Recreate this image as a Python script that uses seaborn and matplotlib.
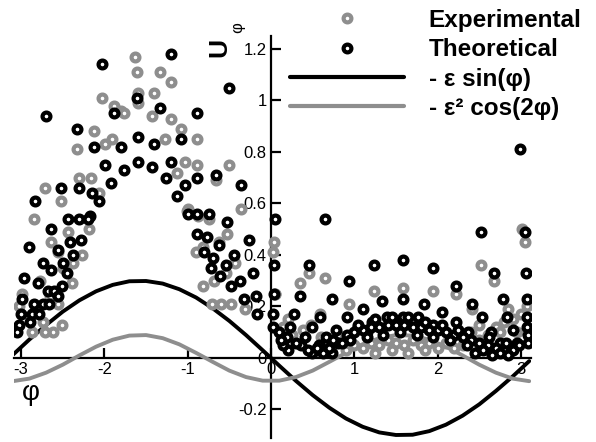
import matplotlib
matplotlib.use("Agg")
import matplotlib.pyplot as plt
import seaborn as sns
import pandas as pd
from matplotlib.lines import Line2D

sns.set_style("white")
plt.rcParams['font.family'] = ['Liberation Sans', 'DejaVu Sans']
plt.rcParams['text.color'] = 'black'

# ---------------- data ----------------
theo_x = [-1.20, -2.03, -1.61, -1.33, -1.88, -0.89, -2.70, -0.50,
          -2.33, -2.12, -1.80, -1.60, -1.40, -1.08,
          -1.99, -1.76, -1.60, -1.43, -1.20, -1.26, -0.89, -1.92, -1.03, -1.13, -2.15, -2.06, -1.00, -0.89, -2.17,
          -2.52, -2.30, -2.83, -2.44, -2.30, -2.20, -2.64, -2.28, -2.41, -2.91, -2.56, -2.50, -2.38, -2.74, -2.64,
          -2.45, -2.51, -2.97, -2.80, -2.68, -2.61, -2.56, -2.99, -2.85, -2.74, -2.67, -3.00, -2.87, -2.79, -2.89,
          -3.03, -3.05,
          -0.66, -0.36, -0.74, -0.53, -0.26, -0.89, -0.77, -0.62, -0.80, -0.70, -0.44, -0.54, -0.72, -0.61, -0.22,
          -0.37, -0.48, -0.32, -0.18, -0.17,
          0.05, 0.04, 0.04, 0.02, 0.02,
          0.65, 0.46, 1.24, 1.58, 0.94, 0.35, 0.73, 1.33, 1.58, 1.10, 0.28, 0.59, 0.91, 0.23, 0.49, 0.78, 1.21,
          1.39, 1.58, 0.19, 0.41, 0.66, 0.91, 1.04, 1.15, 0.36, 0.58, 0.80, 0.49, 0.62, 0.73,
          2.52, 3.05, 1.94, 2.68, 3.06, 2.22, 1.84, 2.41, 2.79, 3.07, 2.05, 2.53, 2.83, 3.07, 1.76, 1.94, 2.22,
          3.07, 2.36, 2.64, 2.91, 3.09, 3.09, 2.95, 2.75, 2.99,
          1.00, 1.10, 1.20, 1.30, 1.40, 1.50, 1.60, 1.70, 1.80, 1.90, 2.00, 2.10, 2.20, 2.30, 2.40, 2.50, 2.60,
          2.70, 2.80, 2.90, 0.85, 0.95, 1.15, 1.35, 1.55, 1.75, 1.95, 2.15, 2.35, 2.55, 2.75, 2.45, 2.65, 2.85,
          0.45, 0.55, 0.70, 0.75, 0.30, 0.20, 0.15, 0.10, 0.12,
          1.05, 1.25, 1.45, 1.65, 1.85, 2.05, 2.25, 2.62, 2.82, 2.98]
theo_y = [1.18, 1.14, 1.01, 0.97, 0.95, 0.95, 0.94, 1.05,
          0.89, 0.82, 0.82, 0.86, 0.83, 0.85,
          0.75, 0.73, 0.76, 0.74, 0.76, 0.70, 0.70, 0.68, 0.67, 0.63, 0.64, 0.61, 0.56, 0.56, 0.55,
          0.66, 0.66, 0.61, 0.54, 0.54, 0.54, 0.50, 0.46, 0.45, 0.43, 0.42, 0.37, 0.40, 0.37, 0.34,
          0.33, 0.28, 0.31, 0.29, 0.26, 0.26, 0.24, 0.23, 0.21, 0.21, 0.21, 0.17, 0.17, 0.17, 0.14,
          0.13, 0.10,
          0.71, 0.67, 0.56, 0.53, 0.46, 0.48, 0.47, 0.44, 0.41, 0.39, 0.40, 0.36, 0.35, 0.32, 0.33,
          0.30, 0.28, 0.23, 0.24, 0.17,
          0.54, 0.36, 0.25, 0.17, 0.12,
          0.54, 0.36, 0.36, 0.38, 0.30, 0.24, 0.23, 0.22, 0.23, 0.19, 0.17, 0.16, 0.16, 0.12, 0.12, 0.11, 0.14,
          0.16, 0.16, 0.08, 0.08, 0.08, 0.09, 0.12, 0.10, 0.05, 0.05, 0.06, 0.02, 0.02, 0.02,
          0.49, 0.49, 0.35, 0.33, 0.33, 0.28, 0.21, 0.21, 0.23, 0.23, 0.18, 0.16, 0.16, 0.16, 0.16, 0.13, 0.14,
          0.12, 0.10, 0.10, 0.11, 0.09, 0.06, 0.06, 0.06, 0.81,
          0.10, 0.11, 0.12, 0.12, 0.13, 0.13, 0.13, 0.12, 0.12, 0.11, 0.11, 0.10, 0.09, 0.08, 0.07, 0.06, 0.05,
          0.04, 0.03, 0.03, 0.06, 0.07, 0.08, 0.09, 0.10, 0.09, 0.08, 0.07, 0.05, 0.03, 0.02, 0.02, 0.01, 0.01,
          0.03, 0.04, 0.04, 0.07, 0.06, 0.03, 0.05, 0.10, 0.07,
          0.13, 0.15, 0.16, 0.16, 0.14, 0.13, 0.11, 0.08, 0.06, 0.05]

exp_x = [-1.63, -1.61, -1.33, -1.20, -2.03, -1.88, -1.80, -1.76, -1.60, -1.60, -1.40, -1.43, -1.20, -1.08,
         -2.12, -2.33, -1.99, -1.91, -1.27, -0.89, -1.03, -0.89, -1.13, -2.30, -2.16, -2.06, -1.00,
         -2.71, -2.52, -2.85, -2.44, -2.18, -2.64, -2.27, -2.50, -2.38, -2.56, -2.39, -2.77, -2.99, -2.56,
         -3.03, -2.65, -2.51, -2.62, -2.74, -2.87, -2.71,
         -0.50, -0.66, -0.36, -1.01, -0.88, -0.74, -0.53, -0.62, -0.82, -0.90, -0.43, -0.54, -0.82, -0.68,
         -0.71, -0.60, -0.48, -0.31, 0.04, 0.02,
         0.05, 0.46, 0.65, 0.35, 1.24, 1.58, 0.94, 0.05, 0.59, 0.20, 0.38, 0.48,
         3.01, 3.05, 2.52, 2.68, 1.94, 2.22, 2.41, 2.85, 3.07,
         1.00, 1.10, 1.20, 1.30, 1.40, 1.50, 1.60, 1.70, 1.80, 1.90, 2.00, 2.10, 2.20, 2.30, 2.50, 2.60, 2.70,
         2.80, 2.90, 3.00, 2.75, 2.95, 1.25, 1.45, 1.65, 1.85, 0.90, 0.70, 0.25, 0.15, 0.60, 0.80, 2.40, 2.50]
exp_y = [1.17, 1.11, 1.11, 1.07, 1.01, 0.98, 0.96, 0.95, 1.03, 0.99, 1.03, 0.94, 0.93, 0.89,
         0.88, 0.81, 0.83, 0.85, 0.85, 0.85, 0.76, 0.75, 0.72, 0.70, 0.70, 0.64, 0.58,
         0.66, 0.61, 0.54, 0.49, 0.50, 0.45, 0.40, 0.35, 0.37, 0.41, 0.29, 0.30, 0.25, 0.21,
         0.20, 0.24, 0.13, 0.10, 0.14, 0.10, 0.10,
         0.75, 0.69, 0.58, 0.57, 0.55, 0.54, 0.48, 0.45, 0.43, 0.41, 0.37, 0.33, 0.28, 0.30,
         0.21, 0.21, 0.21, 0.19, 0.45, 0.41,
         0.25, 0.33, 0.31, 0.29, 0.26, 0.27, 0.21, 0.25, 0.17, 0.15, 0.11, 0.13,
         0.50, 0.45, 0.36, 0.30, 0.26, 0.25, 0.19, 0.19, 0.20,
         0.05, 0.04, 0.06, 0.05, 0.07, 0.06, 0.05, 0.07, 0.05, 0.06, 0.04, 0.06, 0.04, 0.05, 0.07, 0.09, 0.12,
         0.14, 0.15, 0.17, 0.10, 0.10, 0.02, 0.03, 0.02, 0.03, 0.03, 0.06, 0.09, 0.12, 0.08, 0.09, 0.10, 0.13]

line_x = [-3.1, -2.9, -2.7, -2.5, -2.3, -2.1, -1.9, -1.7, -1.5, -1.3, -1.1, -0.9, -0.7, -0.5, -0.3, -0.1,
          0.1, 0.3, 0.5, 0.7, 0.9, 1.1, 1.3, 1.5, 1.7, 1.9, 2.1, 2.3, 2.5, 2.7, 2.9, 3.1]
sin_y = [0.012, 0.072, 0.128, 0.180, 0.224, 0.259, 0.284, 0.298, 0.299, 0.289, 0.267, 0.235, 0.193, 0.144,
         0.089, 0.030, -0.030, -0.089, -0.144, -0.193, -0.235, -0.267, -0.289, -0.299, -0.298, -0.284,
         -0.259, -0.224, -0.180, -0.128, -0.072, -0.012]
cos2_y = [-0.090, -0.080, -0.057, -0.026, 0.010, 0.044, 0.071, 0.087, 0.089, 0.077, 0.053, 0.020, -0.015,
          -0.049, -0.074, -0.088, -0.088, -0.074, -0.049, -0.015, 0.020, 0.053, 0.077, 0.089, 0.087, 0.071,
          0.044, 0.010, -0.026, -0.057, -0.080, -0.090]

x_ticks = [-3, -2, -1, 0, 1, 2, 3]
x_tick_labels = ["-3", "-2", "-1", "0", "1", "2", "3"]
y_ticks = [-0.2, 0, 0.2, 0.4, 0.6, 0.8, 1.0, 1.2]
y_tick_labels = ["-0.2", "0", "0.2", "0.4", "0.6", "0.8", "1", "1.2"]
labels = ["Experimental", "Theoretical", "- \u03b5 sin(\u03c6)", "- \u03b5\u00b2 cos(2\u03c6)"]

GRAY = "#8e8e8e"
BLACK = "#000000"

# ---------------- figure ----------------
W, H = 596, 442
fig = plt.figure(figsize=(W / 100, H / 100), dpi=100)
x0, x1 = -3.08, 3.12
y0, y1 = -0.31, 1.25
left_px = 271 + x0 * 83.3
right_px = 271 + x1 * 83.3
top_px = 358 - y1 * 257.5
bot_px = 358 - y0 * 257.5
ax = fig.add_axes([left_px / W, 1 - bot_px / H, (right_px - left_px) / W, (bot_px - top_px) / H])

lines_df = pd.DataFrame({"x": line_x, "sin": sin_y, "cos2": cos2_y})
sns.lineplot(data=lines_df, x="x", y="sin", ax=ax, color=BLACK, lw=2.8, zorder=2)
sns.lineplot(data=lines_df, x="x", y="cos2", ax=ax, color=GRAY, lw=2.8, zorder=2)

ms = 32
mlw = 3.0
exp_df = pd.DataFrame({"x": exp_x, "y": exp_y})
theo_df = pd.DataFrame({"x": theo_x, "y": theo_y})
sns.scatterplot(data=exp_df, x="x", y="y", ax=ax, marker="o", s=ms, facecolor="white",
                edgecolor=GRAY, linewidth=mlw, zorder=3)
sns.scatterplot(data=theo_df, x="x", y="y", ax=ax, marker="o", s=ms, facecolor="white",
                edgecolor=BLACK, linewidth=mlw, zorder=4)

ax.set_xlim(x0, x1)
ax.set_ylim(y0, y1)
ax.set_xlabel("")
ax.set_ylabel("")
for s in ["top", "right"]:
    ax.spines[s].set_visible(False)
for s in ["left", "bottom"]:
    ax.spines[s].set_position(("data", 0))
    ax.spines[s].set_color("black")
    ax.spines[s].set_linewidth(1.6)
    ax.spines[s].set_zorder(1)
ax.set_xticks(x_ticks)
ax.set_xticklabels(x_tick_labels)
ax.set_yticks(y_ticks)
ax.set_yticklabels(y_tick_labels)
ax.tick_params(axis="both", direction="in", length=7, width=1.6, labelsize=12, colors="black",
               left=True, bottom=True, pad=3)
ax.patch.set_alpha(0)

# axis labels
fig.text(219 / W, 1 - 47 / H, "U", rotation=90, fontsize=19, fontweight="bold", ha="center", va="center")
fig.text(238 / W, 1 - 28 / H, "\u03c6", rotation=90, fontsize=12, ha="center", va="center")
fig.text(31 / W, 1 - 393 / H, "\u03c6", fontsize=20, ha="center", va="center")

# legend
handles = [
    Line2D([], [], ls="none", marker="o", ms=5.6, mfc="white", mec=GRAY, mew=mlw),
    Line2D([], [], ls="none", marker="o", ms=5.6, mfc="white", mec=BLACK, mew=mlw),
    Line2D([], [], color=BLACK, lw=3.0),
    Line2D([], [], color=GRAY, lw=3.0),
]
leg = fig.legend(handles, labels, loc="upper left", bbox_to_anchor=(290 / W, 1 - 9 / H),
                 frameon=False, handlelength=4.7, handletextpad=1.0, borderpad=0, borderaxespad=0,
                 labelspacing=0.26, prop={"size": 17.5, "weight": "bold"})
for t in leg.get_texts():
    t.set_color("black")

fig.savefig("out.png", dpi=100)
